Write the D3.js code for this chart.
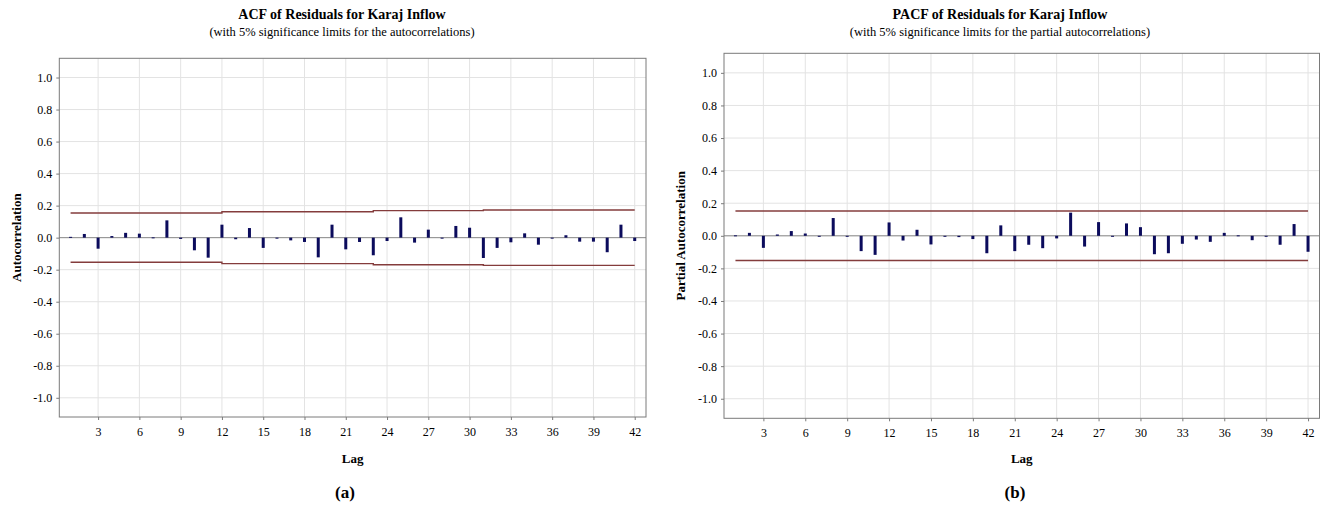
<!DOCTYPE html>
<html>
<head>
<meta charset="utf-8">
<script src="https://cdn.jsdelivr.net/npm/d3@7"></script>
<style>
  body { margin: 0; background: #fff; }
  svg text { font-family: "Times New Roman", "Liberation Serif", serif; fill: #000; }
</style>
</head>
<body>
<div id="chart"></div>
<script>
// ACF / PACF of residuals, two Minitab-style panels side by side
const W = 1322, H = 506;

const lags = [1,2,3,4,5,6,7,8,9,10,11,12,13,14,15,16,17,18,19,20,21,
              22,23,24,25,26,27,28,29,30,31,32,33,34,35,36,37,38,39,40,41,42];

const acfValues = [0.005, 0.023, -0.069, 0.010, 0.030, 0.025, 0.002, 0.108, -0.008, -0.079, -0.125,
                   0.081, -0.010, 0.060, -0.064, -0.002, -0.017, -0.027, -0.123, 0.081, -0.073,
                   -0.027, -0.110, -0.021, 0.127, -0.031, 0.050, -0.003, 0.073, 0.062, -0.127,
                   -0.064, -0.029, 0.027, -0.044, -0.003, 0.015, -0.025, -0.025, -0.091, 0.081, -0.021];

// significance limits (step line) for the ACF
const acfLimits = [0.154, 0.154, 0.154, 0.154, 0.154, 0.154, 0.154, 0.154, 0.154, 0.154, 0.154,
                   0.162, 0.162, 0.162, 0.162, 0.162, 0.162, 0.162, 0.162, 0.162, 0.162, 0.162,
                   0.169, 0.169, 0.169, 0.169, 0.169, 0.169, 0.169, 0.169,
                   0.173, 0.173, 0.173, 0.173, 0.173, 0.173, 0.173, 0.173, 0.173, 0.173, 0.173, 0.173];

const pacfValues = [0.003, 0.018, -0.074, 0.008, 0.029, 0.014, 0.000, 0.109, -0.005, -0.094, -0.117,
                    0.082, -0.029, 0.037, -0.053, -0.003, -0.008, -0.020, -0.107, 0.064, -0.094,
                    -0.055, -0.076, -0.016, 0.142, -0.066, 0.084, -0.005, 0.076, 0.053, -0.113,
                    -0.107, -0.049, -0.023, -0.037, 0.018, 0.003, -0.027, -0.004, -0.055, 0.072, -0.098];

const pacfLimits = [0.152, 0.152, 0.152, 0.152, 0.152, 0.152, 0.152, 0.152, 0.152, 0.152, 0.152,
                    0.152, 0.152, 0.152, 0.152, 0.152, 0.152, 0.152, 0.152, 0.152, 0.152, 0.152,
                    0.152, 0.152, 0.152, 0.152, 0.152, 0.152, 0.152, 0.152, 0.152, 0.152, 0.152,
                    0.152, 0.152, 0.152, 0.152, 0.152, 0.152, 0.152, 0.152, 0.152];

const xTicks = [3, 6, 9, 12, 15, 18, 21, 24, 27, 30, 33, 36, 39, 42];
const yTicks = [-1.0, -0.8, -0.6, -0.4, -0.2, 0.0, 0.2, 0.4, 0.6, 0.8, 1.0];

const serif = '"Times New Roman", "Liberation Serif", serif';
const svg = d3.select("#chart").append("svg").attr("width", W).attr("height", H);

function panel(o) {
  const g = svg.append("g");
  const x = d3.scaleLinear().domain([0.18, 42.82]).range([o.left, o.right]);
  const y = d3.scaleLinear().domain([-1.12, 1.12]).range([o.bottom, o.top]);

  // grid
  g.append("g").selectAll("line").data(xTicks).join("line")
    .attr("x1", d => x(d)).attr("x2", d => x(d))
    .attr("y1", o.top).attr("y2", o.bottom)
    .attr("stroke", "#e3e3e3").attr("stroke-width", 1);
  g.append("g").selectAll("line").data(yTicks).join("line")
    .attr("x1", o.left).attr("x2", o.right)
    .attr("y1", d => y(d)).attr("y2", d => y(d))
    .attr("stroke", "#e3e3e3").attr("stroke-width", 1);

  // zero reference line
  g.append("line")
    .attr("x1", o.left).attr("x2", o.right)
    .attr("y1", y(0)).attr("y2", y(0))
    .attr("stroke", "#8c8c8c").attr("stroke-width", 1);

  // significance limits
  const lim = d3.line().x(d => x(d[0])).y(d => y(d[1])).curve(d3.curveStepAfter);
  const up = lags.map((l, i) => [l, o.limits[i]]);
  const lo = lags.map((l, i) => [l, -o.limits[i]]);
  [up, lo].forEach(pts => {
    g.append("path").attr("d", lim(pts))
      .attr("fill", "none").attr("stroke", "#843c3c").attr("stroke-width", 1.4);
  });

  // bars
  g.append("g").selectAll("rect").data(lags).join("rect")
    .attr("x", d => x(d) - 1.5)
    .attr("width", 3)
    .attr("y", (d, i) => Math.min(y(0), y(o.values[i])))
    .attr("height", (d, i) => Math.max(1, Math.abs(y(o.values[i]) - y(0))))
    .attr("fill", "#0b0b5c");

  // frame
  g.append("rect")
    .attr("x", o.left).attr("y", o.top)
    .attr("width", o.right - o.left).attr("height", o.bottom - o.top)
    .attr("fill", "none").attr("stroke", "#7a7a7a").attr("stroke-width", 1);

  // axes
  const xa = g.append("g").attr("transform", `translate(0,${o.bottom})`)
    .call(d3.axisBottom(x).tickValues(xTicks).tickSize(3).tickPadding(7));
  const ya = g.append("g").attr("transform", `translate(${o.left},0)`)
    .call(d3.axisLeft(y).tickValues(yTicks).tickSize(3).tickPadding(4)
      .tickFormat(d => d.toFixed(1)));
  [xa, ya].forEach(a => {
    a.style("font-family", serif).attr("font-family", serif);
    a.select(".domain").remove();
    a.selectAll(".tick line").attr("stroke", "#7a7a7a");
    a.selectAll("text").attr("font-size", 12).style("font-family", serif).style("fill", "#000");
  });

  // texts
  const cx = (o.left + o.right) / 2;
  g.append("text").attr("x", o.titleX).attr("y", 19).attr("text-anchor", "middle")
    .attr("font-size", 14).attr("font-weight", "bold").text(o.title);
  g.append("text").attr("x", o.titleX).attr("y", 36).attr("text-anchor", "middle")
    .attr("font-size", 12.5).text(o.subtitle);
  g.append("text").attr("x", cx).attr("y", 463).attr("text-anchor", "middle")
    .attr("font-size", 13).attr("font-weight", "bold").text("Lag");
  g.append("text")
    .attr("transform", `translate(${o.yLabelX},${(o.top + o.bottom) / 2}) rotate(-90)`)
    .attr("text-anchor", "middle").attr("font-size", 13).attr("font-weight", "bold")
    .text(o.yLabel);
  g.append("text").attr("x", o.tagX).attr("y", 498).attr("text-anchor", "middle")
    .attr("font-size", 17).attr("font-weight", "bold").text(o.tag);
}

panel({
  left: 59.3, right: 646, top: 58.3, bottom: 417,
  values: acfValues, limits: acfLimits,
  title: "ACF of Residuals for Karaj Inflow",
  subtitle: "(with 5% significance limits for the autocorrelations)",
  yLabel: "Autocorrelation", yLabelX: 21, titleX: 342, tagX: 345, tag: "(a)"
});

panel({
  left: 724, right: 1319.5, top: 53.3, bottom: 418.3,
  values: pacfValues, limits: pacfLimits,
  title: "PACF of Residuals for Karaj Inflow",
  subtitle: "(with 5% significance limits for the partial autocorrelations)",
  yLabel: "Partial Autocorrelation", yLabelX: 685, titleX: 1000, tagX: 1015, tag: "(b)"
});
</script>
</body>
</html>
